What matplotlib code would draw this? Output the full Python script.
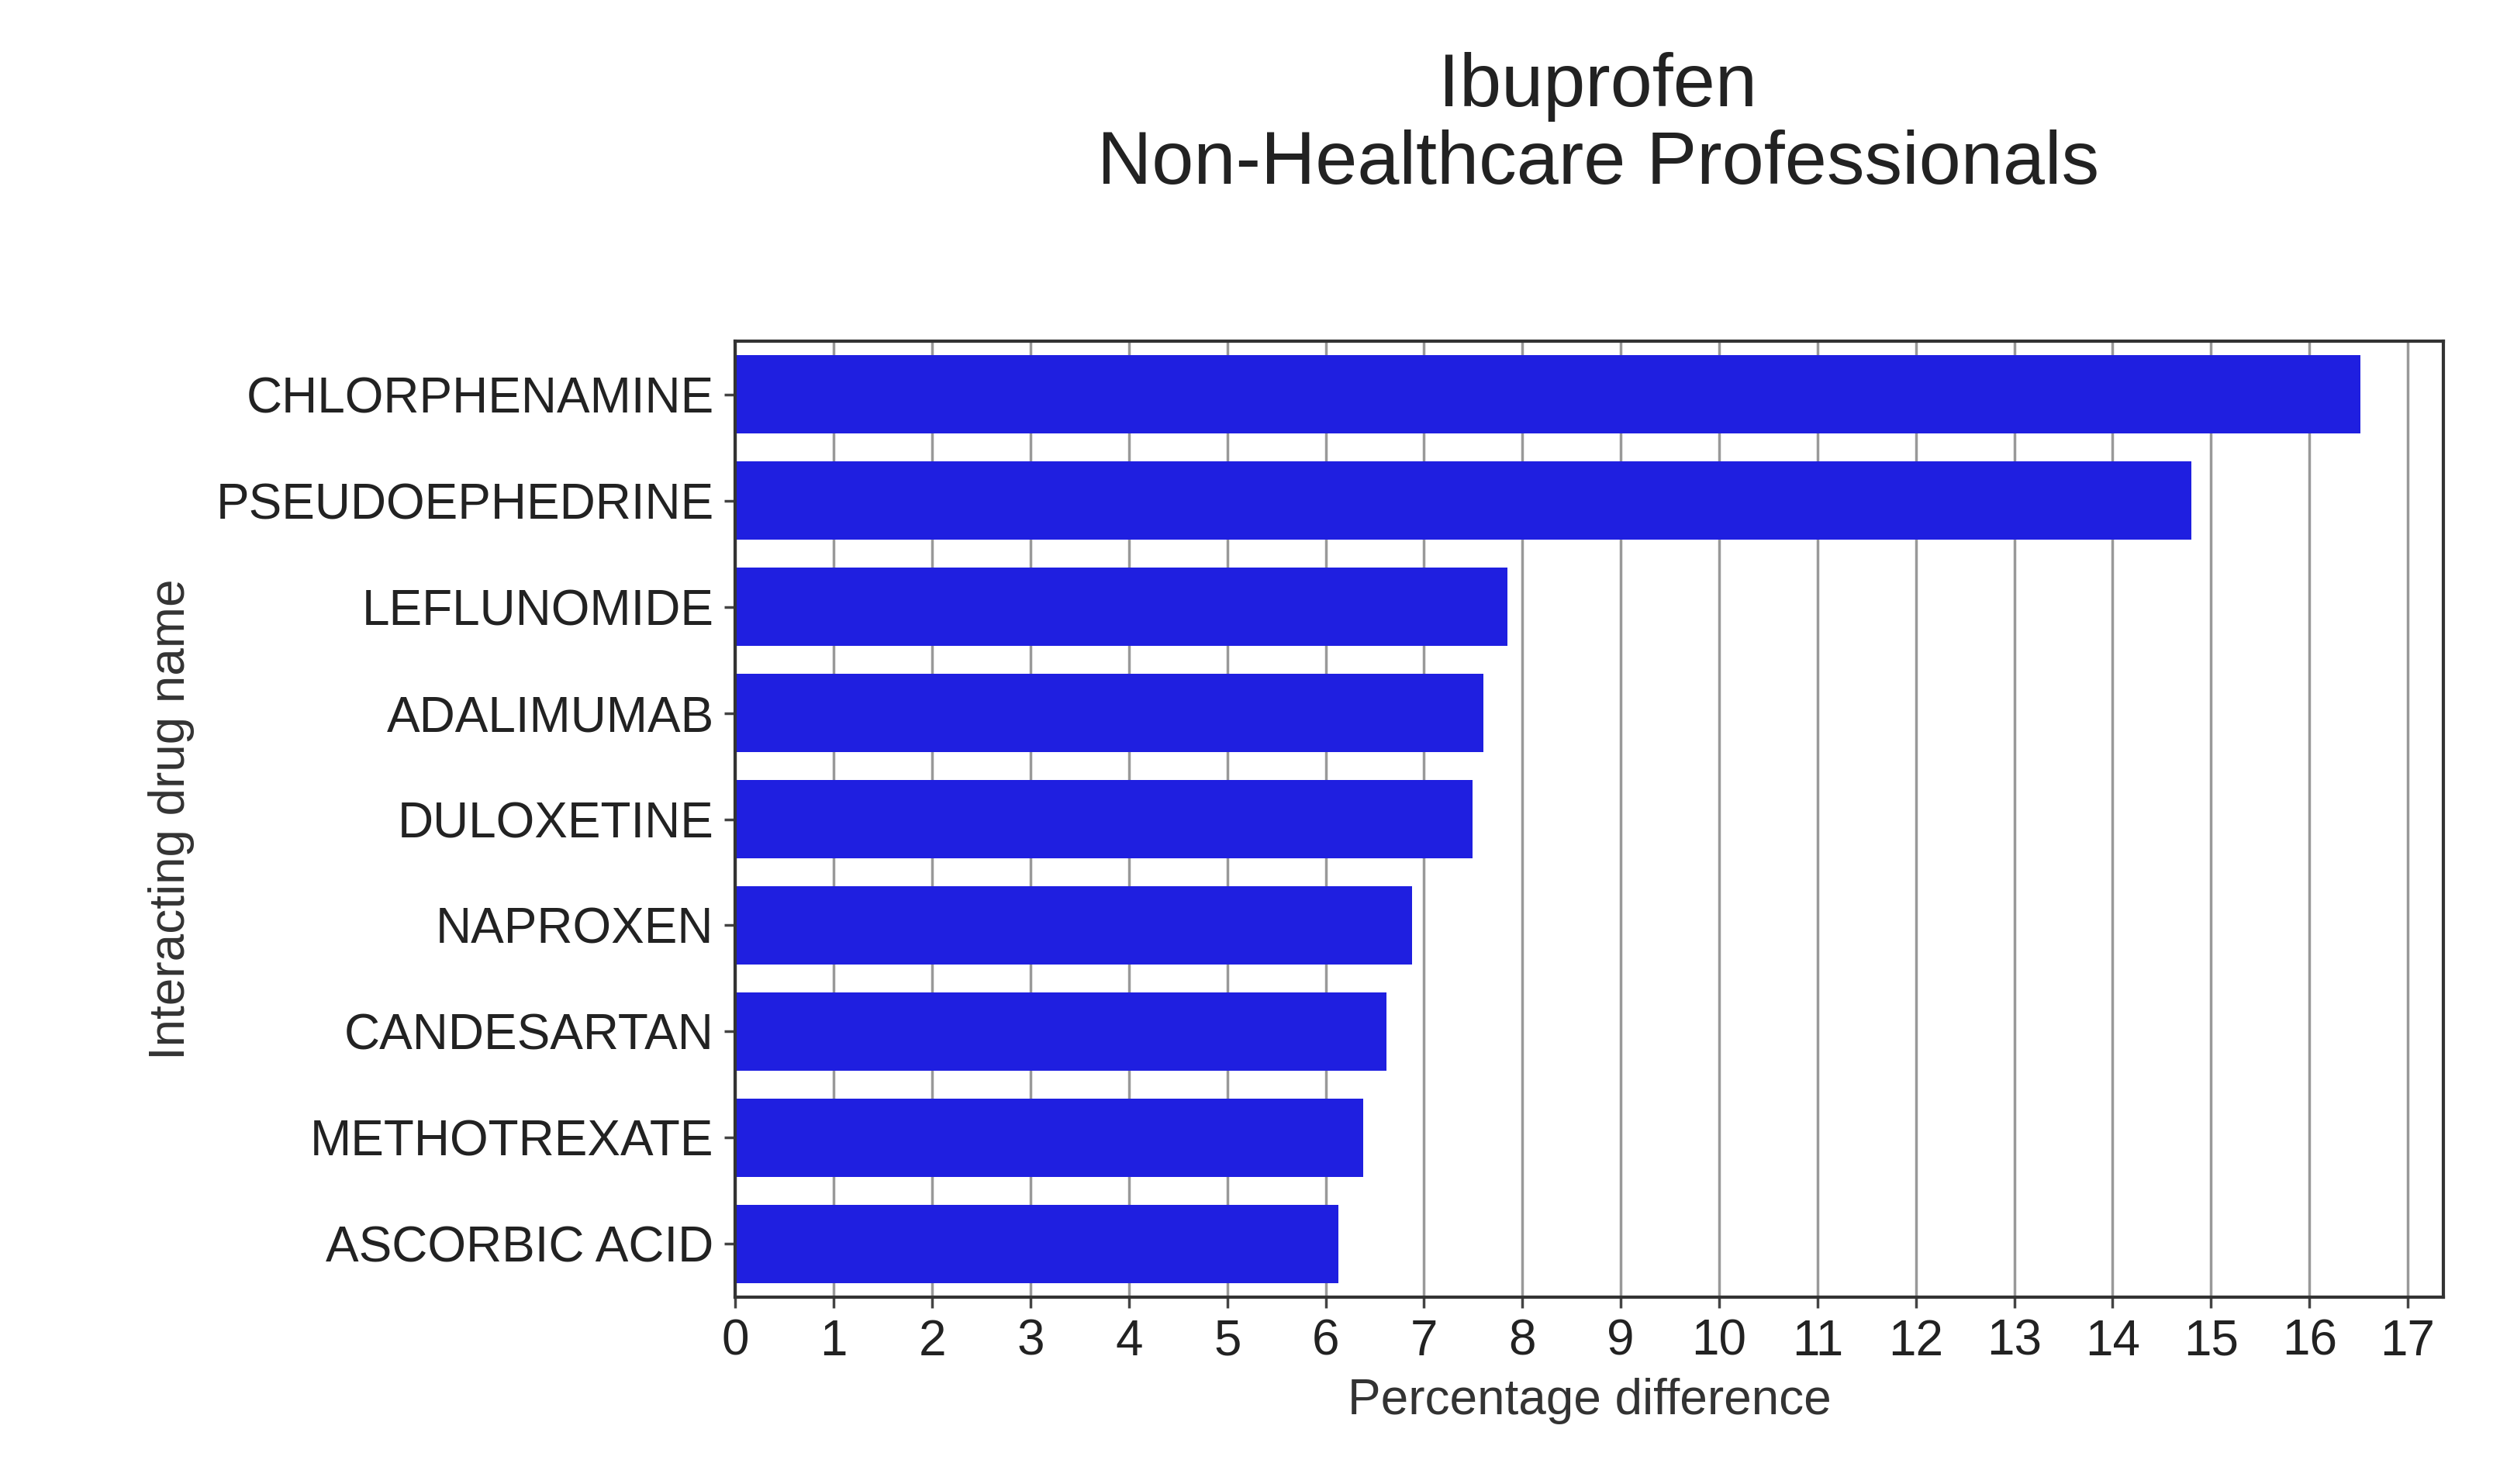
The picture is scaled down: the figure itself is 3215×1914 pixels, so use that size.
import matplotlib
matplotlib.use("Agg")
import matplotlib.pyplot as plt
import numpy as np

drugs = ["CHLORPHENAMINE", "PSEUDOEPHEDRINE", "LEFLUNOMIDE", "ADALIMUMAB",
         "DULOXETINE", "NAPROXEN", "CANDESARTAN", "METHOTREXATE", "ASCORBIC ACID"]
pct_diff = [16.52, 14.80, 7.85, 7.60, 7.49, 6.88, 6.62, 6.38, 6.13]
xticks = list(range(0, 18))

plt.rcParams["font.family"] = ["Liberation Sans", "DejaVu Sans"]

fig = plt.figure(figsize=(32.15, 19.14), dpi=100)
ax = fig.add_axes([0.295, 0.126, 0.685, 0.644])

y = np.arange(len(drugs))
ax.barh(y, pct_diff, height=0.74, color="#1f1fe0", zorder=2)
ax.set_yticks(y)
ax.set_yticklabels(drugs, fontsize=46, color="#222222")
ax.set_ylim(len(drugs) - 0.5, -0.5)
ax.set_xlim(0, 17.36)
ax.set_xticks(xticks)
ax.set_xticklabels([str(t) for t in xticks], fontsize=46, color="#222222")
ax.grid(axis="x", color="#999999", linewidth=2.5, zorder=0)
ax.tick_params(axis="both", length=10, width=2.5, color="#444444", pad=10)
for s in ax.spines.values():
    s.set_linewidth(3)
    s.set_color("#333333")
ax.set_xlabel("Percentage difference", fontsize=46, color="#333333", labelpad=12)
ax.set_ylabel("Interacting drug name", fontsize=46, color="#333333", labelpad=20)
fig.text(0.641, 0.965, "Ibuprofen\nNon-Healthcare Professionals", ha="center", va="top",
         fontsize=70, color="#222222", linespacing=1.15)

fig.savefig("out.png", dpi=100)
